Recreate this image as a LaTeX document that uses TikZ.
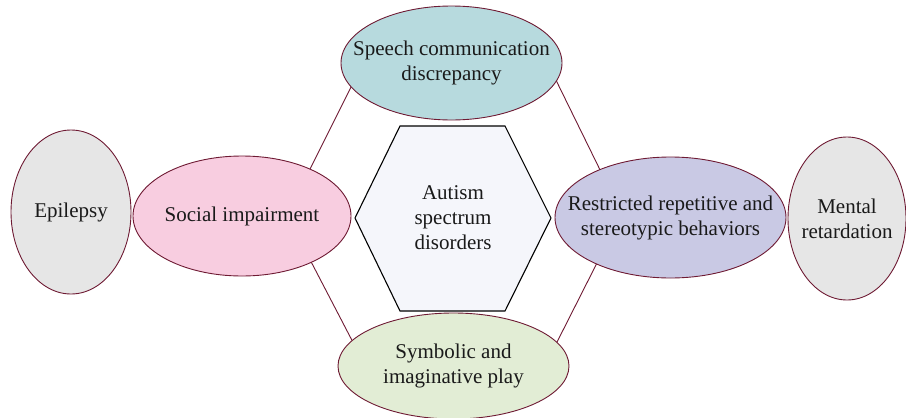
\documentclass[tikz,border=0pt]{standalone}
\usepackage{fontspec}
\setmainfont{Liberation Serif}
\usetikzlibrary{shapes.geometric}
\definecolor{bordc}{HTML}{6E1A33}
\definecolor{speechc}{HTML}{B7DADE}
\definecolor{socialc}{HTML}{F8CDE0}
\definecolor{restrc}{HTML}{C9C9E4}
\definecolor{symbc}{HTML}{E2EDD5}
\definecolor{grayc}{HTML}{E6E6E6}
\definecolor{hexc}{HTML}{F5F6FB}
\definecolor{txtc}{HTML}{1A1A1A}
\begin{document}
\begin{tikzpicture}[x=1pt,y=-1pt,
  oval/.style={ellipse, draw=bordc, line width=0.9pt, inner sep=0pt},
  lbl/.style={align=center, font=\fontsize{21}{25}\selectfont, text=txtc, inner sep=0pt},
  link/.style={draw=bordc, line width=0.9pt},
  hexbox/.style={draw=black, line width=1.1pt, fill=hexc, line join=miter}]
\useasboundingbox (0,0) rectangle (906,418);
% connector ends (hidden under the ellipses)
\coordinate (ul1) at (355,79);
\coordinate (ul2) at (306,177);
\coordinate (ur1) at (552,72);
\coordinate (ur2) at (605,180);
\coordinate (ll1) at (306,252);
\coordinate (ll2) at (357,350);
\coordinate (lr1) at (600,257);
\coordinate (lr2) at (552,352);
\draw[link] (ul1) -- (ul2);
\draw[link] (ur1) -- (ur2);
\draw[link] (ll1) -- (ll2);
\draw[link] (lr1) -- (lr2);
% hexagon
\coordinate (h1) at (355,218);
\coordinate (h2) at (400,126);
\coordinate (h3) at (505,126);
\coordinate (h4) at (551,218);
\coordinate (h5) at (505,311);
\coordinate (h6) at (400,311);
\draw[hexbox] (h1) -- (h2) -- (h3) -- (h4) -- (h5) -- (h6) -- cycle;
\node[lbl] (asd) at (453,218) {Autism\\spectrum\\disorders};
% ellipses
\node[oval, fill=grayc, minimum width=120pt, minimum height=164pt] (epi) at (71,212) {};
\node[lbl] (epit) at (epi.center) {Epilepsy};
\node[oval, fill=socialc, minimum width=218pt, minimum height=120pt] (soc) at (242,216) {};
\node[lbl] (soct) at (soc.center) {Social impairment};
\node[oval, fill=speechc, minimum width=221pt, minimum height=114pt] (spe) at (451.5,63) {};
\node[lbl] (spet) at (spe.center) {Speech communication\\discrepancy};
\node[oval, fill=restrc, minimum width=231pt, minimum height=121pt] (res) at (670.5,217.5) {};
\node[lbl] (rest) at (res.center) {Restricted repetitive and\\stereotypic behaviors};
\node[oval, fill=grayc, minimum width=118pt, minimum height=163pt] (men) at (847,218.5) {};
\node[lbl] (ment) at (men.center) {Mental\\retardation};
\node[oval, fill=symbc, minimum width=231pt, minimum height=106pt] (sym) at (453.5,366) {};
\node[lbl] (symt) at (sym.center) {Symbolic and\\imaginative play};
\end{tikzpicture}
\end{document}
